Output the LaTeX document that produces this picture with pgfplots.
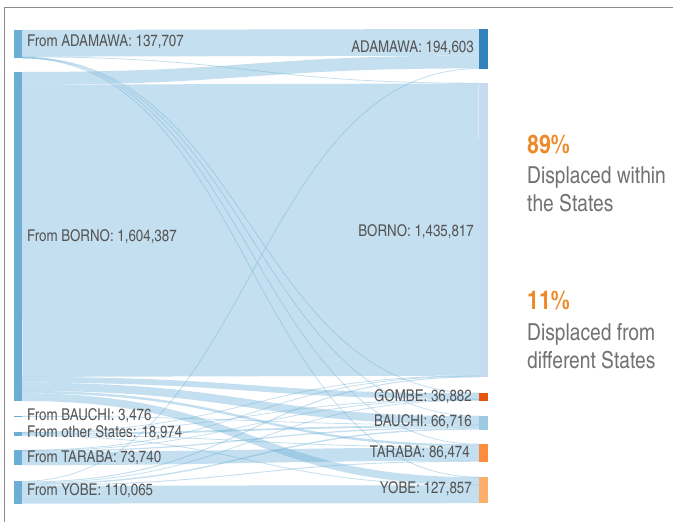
\documentclass[border=0pt]{standalone}
\usepackage{pgfplots}
\pgfplotsset{compat=1.18}
\usepackage{fontspec}
\setmainfont{texgyreheroscn}[Extension=.otf, UprightFont=*-regular, BoldFont=*-bold]

\definecolor{srcblue}{HTML}{6BAED6}
\definecolor{adblue}{HTML}{3182BD}
\definecolor{bornoc}{HTML}{C6DBEF}
\definecolor{gombec}{HTML}{E6550D}
\definecolor{bauchic}{HTML}{9ECAE1}
\definecolor{tarabac}{HTML}{FD8D3C}
\definecolor{yobec}{HTML}{FDAE6B}
\definecolor{flowc}{HTML}{6BAED6}
\definecolor{txt}{RGB}{85,85,85}
\definecolor{txtlight}{RGB}{115,115,115}
\definecolor{pct}{RGB}{238,137,40}

% pixels per thousand people
\def\pxk{0.20506}

% source top, offset in source, target top, offset in target, value (thousands)
\newcommand\flow[5]{%
  \draw[flowc, draw opacity=0.4, line width={max(0.8,#5*\pxk)*1bp}]
    (axis cs:22,{#1+(#2+#5/2)*\pxk}) .. controls (axis cs:250.5,{#1+(#2+#5/2)*\pxk})
    and (axis cs:250.5,{#3+(#4+#5/2)*\pxk}) .. (axis cs:479,{#3+(#4+#5/2)*\pxk});}

% left x, top, value (thousands), colour
\newcommand\nodebar[4]{%
  \addplot[fill=#4, draw=none] table[row sep=\\, x expr={#1+8.5*\thisrow{g}},
    y expr={#2+\thisrow{f}*#3*\pxk}] {g f\\ 0 0\\ 1 0\\ 1 1\\ 0 1\\};}

\begin{document}
\begin{tikzpicture}
\begin{axis}[scale only axis, width=673bp, height=522bp,
  xmin=0, xmax=673, ymin=0, ymax=522, y dir=reverse, hide axis, clip=false]

\coordinate (bl) at (axis cs:0,522);
\coordinate (tr) at (axis cs:673,0);

% frame
\draw[gray!90, line width=1.3bp] (axis cs:4.5,522) -- (axis cs:4.5,7.5) -- (axis cs:673,7.5);

% flows: from ADAMAWA
\flow{30}{0}{29}{0}{130.007}
\flow{30}{130.007}{83}{0}{2.000}
\flow{30}{132.007}{393}{0}{1.500}
\flow{30}{133.507}{416}{0}{1.500}
\flow{30}{135.007}{444}{0}{1.500}
\flow{30}{136.507}{477}{0}{1.200}
% from BORNO
\flow{72}{0}{29}{130.007}{62.000}
\flow{72}{62.000}{83}{2.000}{1425.000}
\flow{72}{1487.000}{393}{1.500}{28.000}
\flow{72}{1515.000}{416}{1.500}{40.000}
\flow{72}{1555.000}{444}{1.500}{12.000}
\flow{72}{1567.000}{477}{1.200}{37.387}
% from BAUCHI
\flow{416}{0}{416}{41.500}{3.476}
% from other States
\flow{432}{0}{83}{1427.000}{2.000}
\flow{432}{2.000}{393}{29.500}{2.000}
\flow{432}{4.000}{416}{44.976}{9.000}
\flow{432}{13.000}{444}{13.500}{4.000}
\flow{432}{17.000}{477}{38.587}{1.974}
% from TARABA
\flow{450}{0}{83}{1429.000}{1.817}
\flow{450}{1.817}{393}{31.500}{1.382}
\flow{450}{3.199}{416}{53.976}{6.000}
\flow{450}{9.199}{444}{17.500}{64.541}
% from YOBE
\flow{481}{0}{29}{192.007}{2.596}
\flow{481}{2.596}{83}{1430.817}{5.000}
\flow{481}{7.596}{393}{32.882}{4.000}
\flow{481}{11.596}{416}{59.976}{6.740}
\flow{481}{18.336}{444}{82.041}{4.433}
\flow{481}{22.769}{477}{40.561}{87.296}

% source nodes
\nodebar{14}{30}{137.707}{srcblue}
\nodebar{14}{72}{1604.387}{srcblue}
\nodebar{14}{416}{3.476}{srcblue}
\nodebar{14}{432}{18.974}{srcblue}
\nodebar{14}{450}{73.740}{srcblue}
\nodebar{14}{481}{110.065}{srcblue}
% target nodes
\nodebar{479}{29}{194.603}{adblue}
\nodebar{479}{83}{1435.817}{bornoc}
\nodebar{479}{393}{36.882}{gombec}
\nodebar{479}{416}{66.716}{bauchic}
\nodebar{479}{444}{86.474}{tarabac}
\nodebar{479}{477}{127.857}{yobec}

% labels
\begin{scope}[every node/.style={inner sep=0pt, text=txt, font=\fontsize{16.3}{16.3}\selectfont}]
\node[anchor=base west] at (axis cs:27,47) {From ADAMAWA: 137,707};
\node[anchor=base west] at (axis cs:27,241) {From BORNO: 1,604,387};
\node[anchor=base west] at (axis cs:27,420) {From BAUCHI: 3,476};
\node[anchor=base west] at (axis cs:27,437.3) {From other States: 18,974};
\node[anchor=base west] at (axis cs:27,462.7) {From TARABA: 73,740};
\node[anchor=base west] at (axis cs:27,495) {From YOBE: 110,065};
\node[anchor=base east] at (axis cs:474,52.3) {ADAMAWA: 194,603};
\node[anchor=base east] at (axis cs:474,236) {BORNO: 1,435,817};
\node[anchor=base east] at (axis cs:472,401.7) {GOMBE: 36,882};
\node[anchor=base east] at (axis cs:472,426.7) {BAUCHI: 66,716};
\node[anchor=base east] at (axis cs:470,457.3) {TARABA: 86,474};
\node[anchor=base east] at (axis cs:472,493.3) {YOBE: 127,857};
\end{scope}

\begin{scope}[every node/.style={inner sep=0pt, anchor=base west, text=txtlight, font=\fontsize{23.5}{23.5}\selectfont}]
\node[text=pct, font=\fontsize{26}{26}\selectfont\bfseries] at (axis cs:527,153) {89\%};
\node at (axis cs:527,183.5) {Displaced within};
\node at (axis cs:527,211.5) {the States};
\node[text=pct, font=\fontsize{26}{26}\selectfont\bfseries] at (axis cs:527,309) {11\%};
\node at (axis cs:527,340) {Displaced from};
\node at (axis cs:527,368) {different States};
\end{scope}
\end{axis}
\pgfresetboundingbox
\useasboundingbox (bl) rectangle (tr);
\end{tikzpicture}
\end{document}
